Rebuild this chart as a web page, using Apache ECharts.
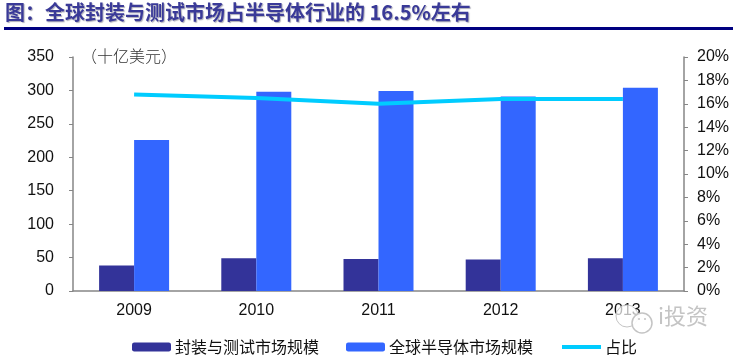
<!DOCTYPE html>
<html>
<head>
<meta charset="utf-8">
<style>
html, body { margin: 0; padding: 0; background: #fff; }
#chart { width: 733px; height: 356px; }
</style>
<script src="https://cdn.jsdelivr.net/npm/echarts@6/dist/echarts.min.js"></script>
</head>
<body>
<div id="chart"></div>
<script>
var years = ["2009", "2010", "2011", "2012", "2013"];
var packaging = [38, 49, 48, 47, 49];
var semiconductor = [226, 298, 299, 291, 304];
var share = [16.8, 16.5, 16.0, 16.4, 16.4];

var cjk = '"Noto Sans CJK SC", sans-serif';
var latin = '"Liberation Sans", sans-serif';
var axisGray = "#868686";
var markGray = "#c4c4c4";

var myChart = echarts.init(document.getElementById("chart"));

var option = {
    animation: false,
    backgroundColor: "#fff",
    title: {
        text: "图：全球封装与测试市场占半导体行业的 16.5%左右",
        left: 5,
        top: 2,
        padding: 0,
        textStyle: {
            color: "#3a3a98",
            fontFamily: cjk,
            fontSize: 20,
            fontWeight: "bold",
            textShadowColor: "rgba(120,120,140,0.6)",
            textShadowBlur: 1,
            textShadowOffsetX: 1,
            textShadowOffsetY: 1
        }
    },
    grid: { left: 73, right: 49, top: 57, bottom: 65 },
    legend: {
        left: 132,
        top: 339,
        padding: 0,
        itemGap: 27,
        itemWidth: 39,
        itemHeight: 9,
        textStyle: { color: "#111", fontFamily: cjk, fontSize: 16, padding: [0, 0, 0, -1] },
        data: [
            { name: "封装与测试市场规模" },
            { name: "全球半导体市场规模" },
            { name: "占比", itemStyle: { opacity: 0 }, lineStyle: { width: 4 } }
        ]
    },
    xAxis: {
        type: "category",
        data: years,
        axisLine: { lineStyle: { color: axisGray, width: 1.5 } },
        axisTick: { length: 4, lineStyle: { color: axisGray } },
        axisLabel: { color: "#111", fontFamily: latin, fontSize: 16, margin: 12 }
    },
    yAxis: [{
        type: "value",
        min: 0,
        max: 350,
        interval: 50,
        splitLine: { show: false },
        axisLine: { show: true, lineStyle: { color: axisGray, width: 1.5 } },
        axisTick: { show: true, length: 4, lineStyle: { color: axisGray } },
        axisLabel: { color: "#111", fontFamily: latin, fontSize: 16, margin: 19 }
    }, {
        type: "value",
        min: 0,
        max: 20,
        interval: 2,
        position: "right",
        splitLine: { show: false },
        axisLine: { show: true, lineStyle: { color: axisGray, width: 1.5 } },
        axisTick: { show: true, length: 4, lineStyle: { color: axisGray } },
        axisLabel: { color: "#111", fontFamily: latin, fontSize: 16, margin: 13, formatter: "{value}%" }
    }],
    series: [{
        name: "封装与测试市场规模",
        type: "bar",
        data: packaging,
        barWidth: 35,
        barGap: 0,
        itemStyle: { color: "#333399" }
    }, {
        name: "全球半导体市场规模",
        type: "bar",
        data: semiconductor,
        barWidth: 35,
        barGap: 0,
        itemStyle: { color: "#3366ff" }
    }, {
        name: "占比",
        type: "line",
        yAxisIndex: 1,
        data: share,
        symbol: "none",
        z: 5,
        lineStyle: { color: "#00ccff", width: 4 },
        itemStyle: { color: "#00ccff" }
    }],
    graphic: [{
        // 标题下的横线
        type: "rect",
        shape: { x: 4, y: 27, width: 729, height: 3 },
        style: { fill: "#000080" }
    }, {
        type: "text",
        x: 81,
        y: 48,
        style: { text: "（十亿美元）", fill: "#333", font: '300 16px "Noto Sans CJK SC"' }
    }, {
        // 水印
        type: "circle",
        shape: { cx: 627, cy: 316, r: 11 },
        style: { fill: "rgba(255,255,255,0.7)", stroke: markGray, lineWidth: 1 },
        z: 20
    }, {
        type: "circle",
        shape: { cx: 642, cy: 323, r: 10 },
        style: { fill: "rgba(255,255,255,0.9)", stroke: markGray, lineWidth: 1.5 },
        z: 21
    }, {
        type: "circle",
        shape: { cx: 639, cy: 319, r: 1 },
        style: { fill: markGray },
        z: 22
    }, {
        type: "circle",
        shape: { cx: 645, cy: 319, r: 1 },
        style: { fill: markGray },
        z: 22
    }, {
        type: "text",
        x: 658,
        y: 305,
        z: 20,
        style: { text: "i投资", fill: markGray, font: '22px "Noto Sans CJK SC"' }
    }]
};

myChart.setOption(option);
</script>
</body>
</html>
